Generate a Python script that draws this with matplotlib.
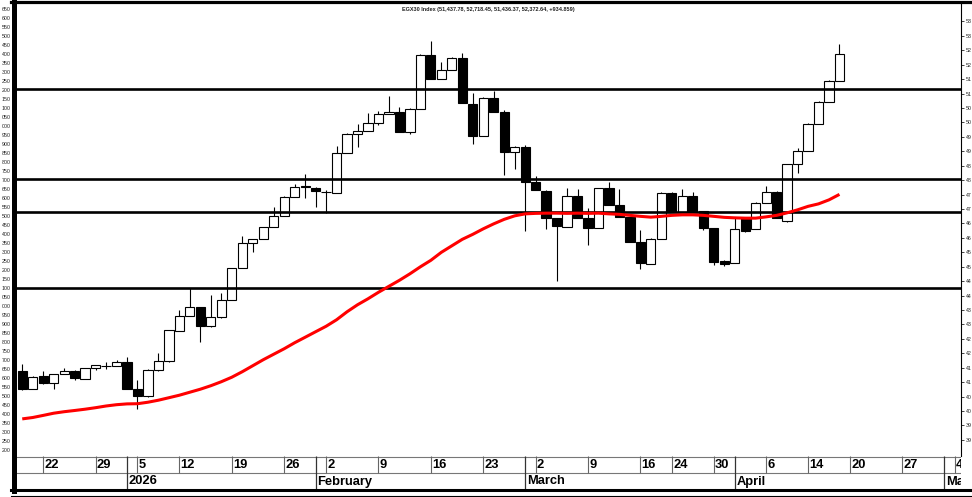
import matplotlib
matplotlib.use("Agg")
import matplotlib.pyplot as plt
from matplotlib.lines import Line2D
from matplotlib.ticker import FixedLocator, FuncFormatter
import numpy as np

plt.rcParams['font.family'] = ['Liberation Sans', 'DejaVu Sans']

title = "EGX30 Index (51,437.78, 52,718.45, 51,436.37, 52,372.64, +934.859)"

opens = [41395, 40772, 41212, 40955, 41291, 41385, 41108, 41475, 41551, 41558,
         41707, 40761, 40505, 41406, 41717, 42770, 43300, 43601, 42954, 43241,
         43854, 44952, 45838, 45956, 46372, 46773, 47431, 47785, 47743, 47587,
         47549, 48955, 49603, 49706, 49994, 50285, 50354, 49682, 50468, 52338,
         51497, 51819, 52224, 50641, 49533, 50860, 50375, 48990, 49152, 47930,
         47639, 46683, 46392, 47466, 46704, 46337, 47722, 47144, 46718, 45873,
         45101, 45966, 47570, 46912, 47456, 46919, 46337, 45205, 45135, 46683,
         46302, 47224, 47605, 46600, 48553, 49024, 49949, 50721, 51437.78]
highs = [41638, 41205, 41395, 41290, 41489, 41412, 41482, 41603, 41683, 41766,
         41880, 41059, 41454, 42008, 42798, 43508, 44270, 43611, 44027, 44079,
         44962, 46070, 45966, 46382, 47064, 47438, 47871, 48217, 47750, 47663,
         49197, 49620, 49949, 50340, 50399, 50919, 50548, 50485, 52356, 52834,
         52106, 52259, 52397, 51033, 50867, 51092, 50434, 49170, 49222, 48148,
         47646, 46693, 47722, 47698, 47030, 47733, 47930, 47688, 46728, 46278,
         45983, 47577, 47577, 47688, 47605, 46936, 46347, 45239, 46694, 46728,
         47231, 47802, 47612, 48560, 49107, 49966, 50738, 51455, 52718.45]
lows = [40737, 40755, 40945, 40761, 41274, 41059, 41101, 41430, 41454, 41551,
        40755, 40069, 40495, 41395, 41707, 42763, 43283, 42382, 42895, 43231,
        43844, 44945, 45527, 45949, 46365, 46763, 47421, 47376, 47064, 46877,
        47542, 48945, 49163, 49696, 49914, 50278, 49672, 49592, 50451, 51490,
        51490, 51809, 50659, 49256, 49523, 50364, 48183, 48380, 46254, 47653,
        46313, 44488, 46382, 46676, 45759, 46330, 47134, 46728, 45863, 44917,
        45090, 45956, 46902, 46902, 46902, 46278, 45066, 45031, 45118, 46209,
        46295, 47213, 46676, 46555, 48262, 49014, 49940, 50711, 51436.37]
closes = [40772, 41177, 40955, 41281, 41385, 41142, 41475, 41593, 41568, 41697,
          40761, 40530, 41406, 41742, 42791, 43289, 43594, 42954, 43241, 43844,
          44952, 45838, 45956, 46372, 46773, 47431, 47778, 47771, 47618, 47577,
          48955, 49603, 49706, 49994, 50285, 50364, 49682, 50468, 52338, 51497,
          51819, 52224, 50666, 49533, 50860, 50375, 48990, 49163, 47951, 47663,
          46683, 46417, 47466, 46683, 46347, 47722, 47144, 46739, 45873, 45125,
          45966, 47570, 46912, 47456, 46912, 46337, 45170, 45083, 46313, 46243,
          47224, 47584, 46683, 48553, 49024, 49949, 50721, 51438, 52372.64]
moving_avg = [39726, 39774, 39847, 39923, 39975, 40017, 40062, 40114, 40173, 40218,
              40246, 40252, 40304, 40374, 40460, 40547, 40651, 40755, 40876, 41014,
              41170, 41361, 41568, 41776, 41967, 42157, 42365, 42555, 42746, 42936,
              43161, 43438, 43681, 43889, 44114, 44322, 44529, 44754, 44997, 45222,
              45499, 45724, 45949, 46122, 46313, 46486, 46642, 46763, 46832, 46849,
              46856, 46856, 46849, 46856, 46849, 46856, 46832, 46815, 46780, 46746,
              46718, 46746, 46780, 46798, 46798, 46780, 46746, 46711, 46694, 46683,
              46683, 46728, 46780, 46867, 46971, 47092, 47178, 47317, 47507]
levels = [51150, 48045, 46890, 44260]

price_ticks = list(range(39000, 53501, 500))
left_ticks = list(range(49200, 51651, 50))

week_pos = [2, 7, 11, 15, 20, 25, 29, 34, 39, 44, 49, 54, 59, 62, 66, 71, 75, 79, 84, 89]
week_labels = ["22", "29", "5", "12", "19", "26", "2", "9", "16", "23",
               "2", "9", "16", "24", "30", "6", "14", "20", "27", "4"]
month_pos = [10, 28, 48, 68, 88]
month_labels = ["2026", "February", "March", "April", "May"]

W, H = 972, 497
fig = plt.figure(figsize=(W / 100, H / 100), dpi=100)
fig.patch.set_facecolor('white')

ax = fig.add_axes([17 / W, 1 - 456 / H, 944 / W, 452 / H])
xlim = (-0.5, 89.6)
ax.set_xlim(*xlim)
ax.set_ylim(38440, 54105)

x = np.arange(len(opens))
o, hi, lo, c = map(np.asarray, (opens, highs, lows, closes))
up = c >= o
ax.vlines(x, lo, hi, color='black', lw=0.8, zorder=2)
ax.bar(x, np.abs(c - o), bottom=np.minimum(o, c), width=0.88,
       color=np.where(up, 'white', 'black'), edgecolor='black', linewidth=0.8, zorder=3)

for lv in levels:
    ax.axhline(lv, color='black', lw=1.9, zorder=3.5)

ax.plot(x, moving_avg, color='#ff0000', lw=2.2, zorder=4, solid_capstyle='butt')

ax.text(0.499, 0.988, title, transform=ax.transAxes, ha='center', va='center',
        fontsize=4, fontweight='bold', color='#222222')

# right price axis
ax.yaxis.tick_right()
ax.yaxis.set_major_locator(FixedLocator(price_ticks))
ax.yaxis.set_major_formatter(FuncFormatter(lambda v, p: str(int(v) // 1000)))
ax.tick_params(axis='y', which='major', length=2, width=0.6, pad=1.2, labelsize=3.8,
               colors='#222222')
ax.set_xticks([])
for s in ['top', 'left', 'bottom']:
    ax.spines[s].set_visible(False)
ax.spines['right'].set_linestyle((0, (1, 1)))
ax.spines['right'].set_linewidth(0.8)

# left scale labels
def fwd(p):
    return 51200 + (np.asarray(p) - 51126) * 0.16043

def inv(v):
    return 51126 + (np.asarray(v) - 51200) / 0.16043

sec = ax.secondary_yaxis('left', functions=(fwd, inv))
sec.yaxis.set_major_locator(FixedLocator(left_ticks))
sec.yaxis.set_major_formatter(FuncFormatter(lambda v, p: f"{int(round(v)) % 1000:03d}"))
sec.tick_params(length=0, pad=4.6, labelsize=3.8, colors='#222222')
sec.spines['left'].set_visible(False)

# date rows
dax = fig.add_axes([17 / W, 1 - 490 / H, 944 / W, 34 / H])
dax.set_xlim(*xlim)
dax.set_ylim(0, 1)
dax.axis('off')
mid = (490 - 473.3) / 34
dax.axhline(0.985, color='#777777', lw=0.8)
dax.axhline(mid, color='#777777', lw=0.8)
dax.vlines(week_pos, mid, 1, color='#666666', lw=0.8)
dax.vlines(month_pos, 0, 1, color='#333333', lw=0.9)
for p, t in zip(week_pos, week_labels):
    dax.text(p + 0.12, 0.74, t, ha='left', va='center', fontsize=9.3,
             fontweight='bold', clip_on=True)
for p, t in zip(month_pos, month_labels):
    dax.text(p + 0.15, 0.25, t, ha='left', va='center', fontsize=9.3,
             fontweight='bold', clip_on=True)

# frame decorations
fig.add_artist(Line2D([11 / W, 1], [1 - 1.5 / H] * 2, transform=fig.transFigure,
                      color='black', lw=2.3))
fig.add_artist(Line2D([13.5 / W] * 2, [1 - 491 / H, 1], transform=fig.transFigure,
                      color='black', lw=3.6))
fig.add_artist(Line2D([11 / W, 1], [1 - 489.5 / H] * 2, transform=fig.transFigure,
                      color='black', lw=2.2))
fig.add_artist(Line2D([11 / W, 1], [1 - 496 / H] * 2, transform=fig.transFigure,
                      color='black', lw=0.8))

fig.savefig('out.png', dpi=100, facecolor='white')
